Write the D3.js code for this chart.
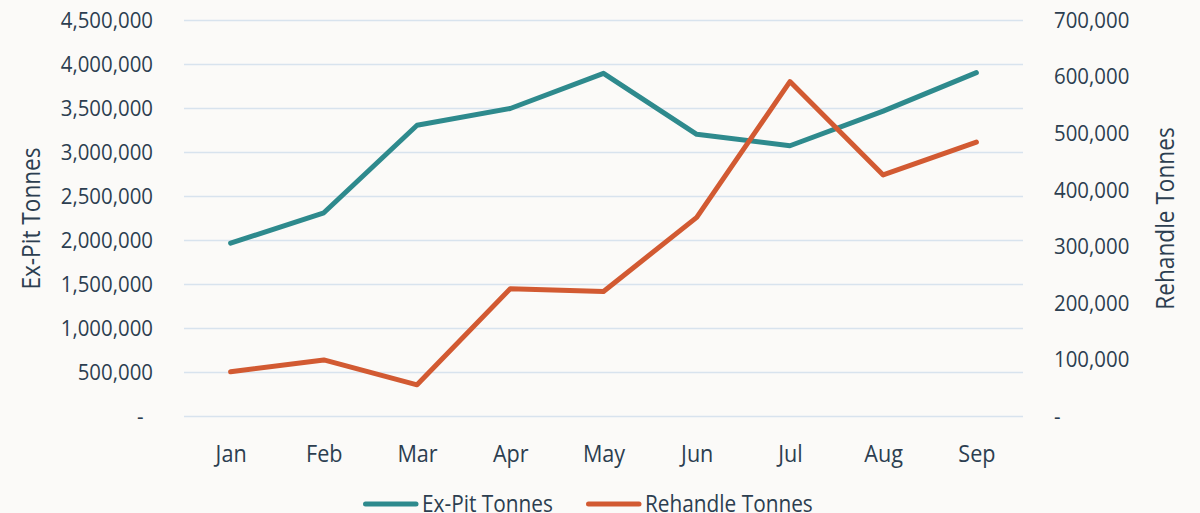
<!DOCTYPE html>
<html>
<head>
<meta charset="utf-8">
<script src="https://cdn.jsdelivr.net/npm/d3@7"></script>
<style>
  html, body { margin: 0; padding: 0; background: #fbfaf8; }
  text { font-family: "Open Sans", sans-serif; fill: #2c3e50; }
</style>
</head>
<body>
<div id="chart"></div>
<script>
// months along the bottom
let months = ["Jan", "Feb", "Mar", "Apr", "May", "Jun", "Jul", "Aug", "Sep"];

// left axis series
let exPitTonnes = [1970000, 2315000, 3310000, 3500000, 3900000, 3207000, 3077000, 3470000, 3907000];

// right axis series
let rehandleTonnes = [79000, 100000, 56000, 226000, 221000, 352000, 592000, 427000, 485000];

let leftTicks = [0, 500000, 1000000, 1500000, 2000000, 2500000, 3000000, 3500000, 4000000, 4500000];
let rightTicks = [0, 100000, 200000, 300000, 400000, 500000, 600000, 700000];

let seriesNames = ["Ex-Pit Tonnes", "Rehandle Tonnes"];
let seriesColors = ["#2e8a8d", "#d25a32"];

function drawChart(width, height, selector) {

  let margin = { top: 20.5, left: 184, right: 177, bottom: 96.5 };
  let chartWidth = width - margin.left - margin.right;
  let chartHeight = height - margin.top - margin.bottom;

  let svg = d3.select(selector)
    .append("svg")
    .attr("width", width)
    .attr("height", height);

  svg.append("rect")
    .attr("width", width)
    .attr("height", height)
    .attr("fill", "#fbfaf8");

  let chart = svg.append("g")
    .attr("transform", "translate(" + margin.left + "," + margin.top + ")");

  /// scales ///
  let x = d3.scalePoint()
    .domain(months)
    .range([0, chartWidth])
    .padding(0.5);

  let yLeft = d3.scaleLinear()
    .domain([0, 4500000])
    .range([chartHeight, 0]);

  let yRight = d3.scaleLinear()
    .domain([0, 700000])
    .range([chartHeight, 0]);

  let fmt = d => d === 0 ? "-" : d3.format(",")(d);

  /// gridlines ///
  chart.append("g")
    .selectAll("line")
    .data(leftTicks)
    .join("line")
    .attr("x1", 0)
    .attr("x2", chartWidth)
    .attr("y1", d => yLeft(d))
    .attr("y2", d => yLeft(d))
    .attr("stroke", "#d8e3ee")
    .attr("stroke-width", 1.5);

  /// left axis ///
  let leftAxis = chart.append("g")
    .attr("transform", "translate(-31,0)")
    .call(d3.axisLeft(yLeft).tickValues(leftTicks).tickFormat(fmt).tickSize(0).tickPadding(0));
  leftAxis.select(".domain").remove();
  leftAxis.selectAll("text")
    .style("font-family", "'Open Sans', sans-serif")
    .style("font-size", "21.5px")
    .attr("fill", "#2c3e50")
    .attr("transform", "scale(0.95,1)")
    .attr("dx", d => d === 0 ? -10 : 0);

  /// right axis ///
  let rightAxis = chart.append("g")
    .attr("transform", "translate(" + (chartWidth + 31) + ",0)")
    .call(d3.axisRight(yRight).tickValues(rightTicks).tickFormat(fmt).tickSize(0).tickPadding(0));
  rightAxis.select(".domain").remove();
  rightAxis.selectAll("text")
    .style("font-family", "'Open Sans', sans-serif")
    .style("font-size", "21.5px")
    .attr("transform", "scale(0.95,1)")
    .attr("fill", "#2c3e50");

  /// bottom axis ///
  let bottomAxis = chart.append("g")
    .attr("transform", "translate(0," + chartHeight + ")")
    .call(d3.axisBottom(x).tickSize(0).tickPadding(28));
  bottomAxis.select(".domain").remove();
  bottomAxis.selectAll("text")
    .style("font-family", "'Open Sans', sans-serif")
    .style("font-size", "24px")
    .attr("transform", "scale(0.9,1)")
    .attr("fill", "#2c3e50");

  /// axis titles ///
  svg.append("text")
    .attr("transform", "translate(40,218.5) rotate(-90) scale(0.87,1)")
    .attr("text-anchor", "middle")
    .style("font-size", "26px")
    .text(seriesNames[0]);

  svg.append("text")
    .attr("transform", "translate(1174,218.5) rotate(-90) scale(0.87,1)")
    .attr("text-anchor", "middle")
    .style("font-size", "26px")
    .text(seriesNames[1]);

  /// lines ///
  let lineLeft = d3.line()
    .x((d, i) => x(months[i]))
    .y(d => yLeft(d));

  let lineRight = d3.line()
    .x((d, i) => x(months[i]))
    .y(d => yRight(d));

  chart.append("path")
    .datum(exPitTonnes)
    .attr("d", lineLeft)
    .attr("fill", "none")
    .attr("stroke", seriesColors[0])
    .attr("stroke-width", 5)
    .attr("stroke-linecap", "round")
    .attr("stroke-linejoin", "round");

  chart.append("path")
    .datum(rehandleTonnes)
    .attr("d", lineRight)
    .attr("fill", "none")
    .attr("stroke", seriesColors[1])
    .attr("stroke-width", 5)
    .attr("stroke-linecap", "round")
    .attr("stroke-linejoin", "round");

  /// legend ///
  let legendX = [363, 586];
  let legend = svg.append("g");
  let items = legend.selectAll("g")
    .data(seriesNames)
    .join("g")
    .attr("transform", (d, i) => "translate(" + legendX[i] + ",504)");

  items.append("line")
    .attr("x1", 2.5)
    .attr("x2", 53)
    .attr("stroke", (d, i) => seriesColors[i])
    .attr("stroke-width", 5)
    .attr("stroke-linecap", "round");

  items.append("text")
    .attr("transform", "translate(59,7.7) scale(0.85,1)")
    .style("font-size", "24.5px")
    .text(d => d);
}

drawChart(1200, 513, "#chart");
</script>
</body>
</html>
